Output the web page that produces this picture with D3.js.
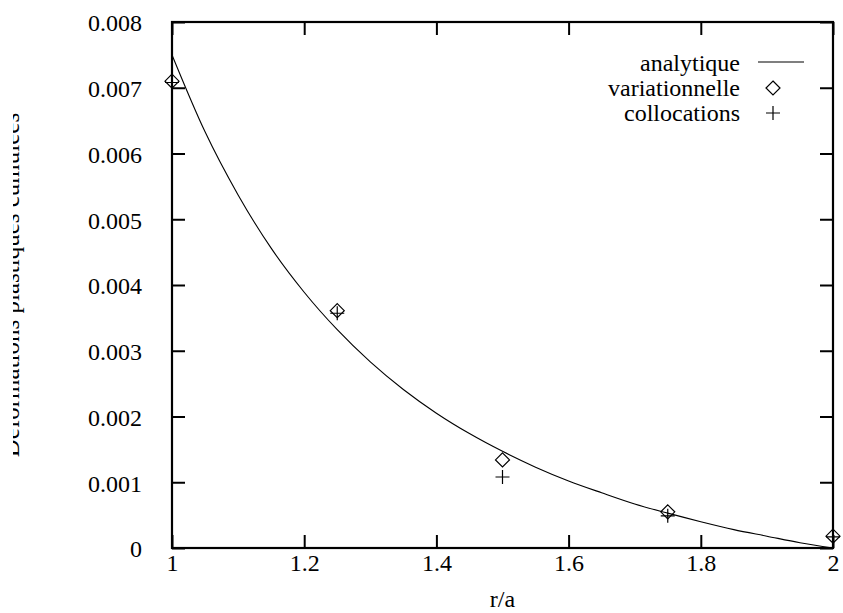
<!DOCTYPE html>
<html><head><meta charset="utf-8">
<script src="https://cdn.jsdelivr.net/npm/d3@7"></script>
<style>body{margin:0;background:#fff}svg{display:block}</style>
</head><body>
<script>
const xTicks = [1, 1.2, 1.4, 1.6, 1.8, 2];
const yTicks = [0, 0.001, 0.002, 0.003, 0.004, 0.005, 0.006, 0.007, 0.008];
const xTickLabels = ["1", "1.2", "1.4", "1.6", "1.8", "2"];
const yTickLabels = ["0", "0.001", "0.002", "0.003", "0.004", "0.005", "0.006", "0.007", "0.008"];
const analR = [1, 1.05, 1.1, 1.15, 1.2, 1.25, 1.3, 1.35, 1.4, 1.45, 1.5, 1.55, 1.6, 1.65, 1.7, 1.75, 1.8, 1.85, 1.9, 1.95, 2];
const analV = [0.00750, 0.00633, 0.00537, 0.00456, 0.00389, 0.00332, 0.00283, 0.00241, 0.00205, 0.00174, 0.00147, 0.00123, 0.00102, 0.00084, 0.00067, 0.00053, 0.00040, 0.00028, 0.00018, 0.00008, 0];
const ptR = [1, 1.25, 1.5, 1.75, 2];
const variationV = [0.00710, 0.00361, 0.00134, 0.00055, 0.00018];
const collocV = [0.00708, 0.00357, 0.00108, 0.00049, 0.00017];
const legendLabels = ["analytique", "variationnelle", "collocations"];
const xLabel = "r/a";
const yLabel = "Déformations plastiques cumulées";

function pickFont() {
  const cands = ["Liberation Serif", "Tinos", "Times New Roman", "Times", "DejaVu Serif", "Noto Serif", "FreeSerif", "Nimbus Roman", "serif"];
  const c = document.createElement("canvas").getContext("2d");
  const s = "abcdefghijklmnopqrstuvwxyzABCDEFGHIJ0123456789.";
  const w = f => { c.font = "40px " + f; return c.measureText(s).width; };
  const m = w("monospace"), sa = w("sans-serif");
  for (const k of cands) {
    const f = k === "serif" ? k : `"${k}"`;
    if (w(f + ", monospace") !== m && w(f + ", sans-serif") !== sa) return f;
  }
  return "serif";
}
const FF = pickFont() + ", serif";
const W = 843, H = 613;
const L = 172, R = 833, T = 22, B = 548;
const svg = d3.select("body").append("svg").attr("width", W).attr("height", H)
  .attr("font-family", FF);
const x = d3.scaleLinear().domain([1, 2]).range([L, R]);
const y = d3.scaleLinear().domain([0, 0.008]).range([B, T]);
const FS = 24, TL = 13;

const gx = svg.append("g").attr("transform", `translate(0,${B})`)
  .call(d3.axisBottom(x).tickValues(xTicks).tickSize(-TL).tickPadding(TL + 9).tickFormat((d, i) => xTickLabels[i]));
const gxt = svg.append("g").attr("transform", `translate(0,${T})`)
  .call(d3.axisTop(x).tickValues(xTicks).tickSize(-TL).tickFormat(""));
const gy = svg.append("g").attr("transform", `translate(${L},0)`)
  .call(d3.axisLeft(y).tickValues(yTicks).tickSize(-TL).tickPadding(TL + 17).tickFormat((d, i) => yTickLabels[i]));
const gyr = svg.append("g").attr("transform", `translate(${R},0)`)
  .call(d3.axisRight(y).tickValues(yTicks).tickSize(-TL).tickFormat(""));
[gx, gxt, gy, gyr].forEach(g => {
  g.attr("font-family", FF).attr("font-size", FS);
  g.select(".domain").remove();
  g.selectAll(".tick line").attr("stroke", "#000").attr("stroke-width", 2);
  g.selectAll("text").style("font-family", FF).style("font-size", FS + "px").attr("fill", "#000");
});
gx.selectAll("text").attr("dy", "0.05em");
gy.selectAll("text").attr("dy", "0.37em");
svg.append("rect").attr("x", L).attr("y", T).attr("width", R - L).attr("height", B - T)
  .attr("fill", "none").attr("stroke", "#000").attr("stroke-width", 2.2);

const line = d3.line().x((d, i) => x(analR[i])).y(d => y(d)).curve(d3.curveMonotoneX);
svg.append("path").datum(analV).attr("d", line).attr("fill", "none").attr("stroke", "#000").attr("stroke-width", 1.1);

const diamond = (cx, cy, s) => `M${cx},${cy - s}L${cx + s},${cy}L${cx},${cy + s}L${cx - s},${cy}Z`;
const plus = (cx, cy, s) => `M${cx - s},${cy}H${cx + s}M${cx},${cy - s}V${cy + s}`;

svg.append("g").selectAll("path").data(variationV).join("path")
  .attr("d", (d, i) => diamond(x(ptR[i]), y(d), 7)).attr("fill", "none").attr("stroke", "#000").attr("stroke-width", 1.2);
svg.append("g").selectAll("path").data(collocV).join("path")
  .attr("d", (d, i) => plus(x(ptR[i]), y(d), 7)).attr("fill", "none").attr("stroke", "#000").attr("stroke-width", 1.2);

const lg = svg.append("g");
const rowsY = [71, 96, 121];
legendLabels.forEach((t, i) => {
  lg.append("text").attr("x", 740).attr("y", rowsY[i]).attr("text-anchor", "end")
    .style("font-family", FF).style("font-size", FS + "px").text(t);
});
lg.append("line").attr("x1", 758).attr("x2", 804).attr("y1", 62).attr("y2", 62).attr("stroke", "#000").attr("stroke-width", 1.1);
lg.append("path").attr("d", diamond(773, 88, 7)).attr("fill", "none").attr("stroke", "#000").attr("stroke-width", 1.2);
lg.append("path").attr("d", plus(773, 113, 7)).attr("fill", "none").attr("stroke", "#000").attr("stroke-width", 1.2);

svg.append("text").attr("x", (L + R) / 2).attr("y", 607).attr("text-anchor", "middle")
  .style("font-family", FF).style("font-size", FS + "px").text(xLabel);
svg.append("clipPath").attr("id", "ylc").append("rect").attr("x", 13).attr("y", 0).attr("width", 40).attr("height", H);
svg.append("g").attr("clip-path", "url(#ylc)").append("text")
  .attr("transform", `translate(19,${(T + B) / 2}) rotate(-90)`).attr("text-anchor", "middle")
  .style("font-family", FF).style("font-size", (FS + 1) + "px").text(yLabel);
</script>
</body></html>
